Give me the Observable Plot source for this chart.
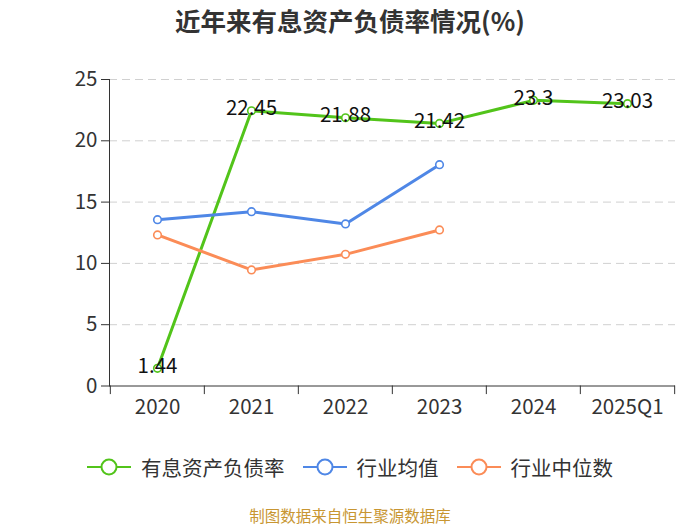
<!DOCTYPE html>
<html>
<head>
<meta charset="utf-8">
<script src="https://cdn.jsdelivr.net/npm/d3@7"></script>
<script src="https://cdn.jsdelivr.net/npm/@observablehq/plot@0.6"></script>
<style>
  html, body { margin: 0; padding: 0; background: #fff; }
  body { width: 700px; height: 525px; position: relative; overflow: hidden;
         font-family: "Noto Sans CJK SC", "Noto Sans", sans-serif; }
  #title { position: absolute; left: 0; top: 0; width: 700px; height: 40px; line-height: 40px;
           text-align: center; font-size: 25.5px; font-weight: bold; color: #333; }
  #chart { position: absolute; left: 0; top: 40px; }
  #ylabel { position: absolute; left: 46px; top: 98px; width: 20px; height: 24px; color: #e00;
            font-size: 14px; transform: rotate(-90deg); transform-origin: center; text-align: center; line-height: 24px; }
  #legend { position: absolute; left: 0; top: 453px; width: 700px; height: 28px; display: flex;
            justify-content: center; align-items: center; font-size: 20.5px; color: #333; }
  .item { display: flex; align-items: center; margin: 0 9px; }
  .item svg { margin-right: 10px; }
  #footer { position: absolute; left: 0; top: 504px; width: 700px; height: 22px; line-height: 22px;
            text-align: center; font-size: 15.5px; color: #c89632; }
</style>
</head>
<body>
<div id="title">近年来有息资产负债率情况(%)</div>
<div id="ylabel">(%)</div>
<div id="chart"></div>
<div id="legend"></div>
<div id="footer">制图数据来自恒生聚源数据库</div>
<script>
const categories = ["2020", "2021", "2022", "2023", "2024", "2025Q1"];
const debtRatio = [1.44, 22.45, 21.88, 21.42, 23.3, 23.03];
const industryAvg = [13.57, 14.22, 13.22, 18.05, null, null];
const industryMedian = [12.32, 9.47, 10.74, 12.73, null, null];
const yTicks = [0, 5, 10, 15, 20, 25];
const seriesNames = ["有息资产负债率", "行业均值", "行业中位数"];
const colors = ["#52c41a", "#4f87e6", "#fb8c57"];

const seriesValues = [debtRatio, industryAvg, industryMedian];
const rows = [];
seriesValues.forEach((vals, s) => {
  vals.forEach((v, i) => {
    if (v != null) rows.push({series: seriesNames[s], cat: categories[i], value: v});
  });
});
const greenRows = rows.filter(d => d.series === seriesNames[0]);

const marginLeft = 109, marginRight = 25, width = 700;
const step = (width - marginLeft - marginRight) / categories.length;

const plot = Plot.plot({
  width: 700,
  height: 400,
  marginTop: 39,
  marginBottom: 54.5,
  marginLeft,
  marginRight,
  style: {fontFamily: '"Noto Sans CJK SC", "Noto Sans", sans-serif', background: "#fff"},
  x: {type: "point", domain: categories, padding: 0.5, label: null},
  y: {domain: [0, 25], label: null},
  color: {domain: seriesNames, range: colors},
  marks: [
    Plot.gridY(yTicks.filter(t => t > 0), {stroke: "#d0d0d0", strokeOpacity: 1, strokeDasharray: "8,5", strokeWidth: 1}),
    Plot.axisY(yTicks, {tickSize: 8, tickPadding: 4, fontSize: 20.5, fill: "#333", stroke: "#333", label: null}),
    Plot.frame({anchor: "left", stroke: "#333"}),
    Plot.ruleY([0], {stroke: "#333"}),
    Plot.axisX(categories, {tickSize: 0, tickPadding: 13, fontSize: 20.5, fill: "#333", label: null}),
    Plot.ruleX(categories, {x: d => d, y1: 0, y2: -0.7, dx: -step / 2, stroke: "#333"}),
    Plot.ruleX([categories[categories.length - 1]], {x: d => d, y1: 0, y2: -0.7, dx: step / 2, stroke: "#333"}),
    Plot.line(rows, {x: "cat", y: "value", z: "series", stroke: "series", strokeWidth: 3}),
    Plot.dot(rows, {x: "cat", y: "value", stroke: "series", fill: "#fff", r: 3.8, strokeWidth: 1.6}),
    Plot.text(greenRows, {x: "cat", y: "value", text: d => String(d.value), fontSize: 20.5, fill: "#111", dy: -2})
  ]
});
document.getElementById("chart").appendChild(plot);

const legend = document.getElementById("legend");
seriesNames.forEach((name, i) => {
  const item = document.createElement("div");
  item.className = "item";
  item.innerHTML = `<svg width="44" height="18"><line x1="0" y1="9" x2="44" y2="9" stroke="${colors[i]}" stroke-width="2"/><circle cx="22" cy="9" r="7.5" fill="#fff" stroke="${colors[i]}" stroke-width="2"/></svg><span>${name}</span>`;
  legend.appendChild(item);
});
</script>
</body>
</html>
